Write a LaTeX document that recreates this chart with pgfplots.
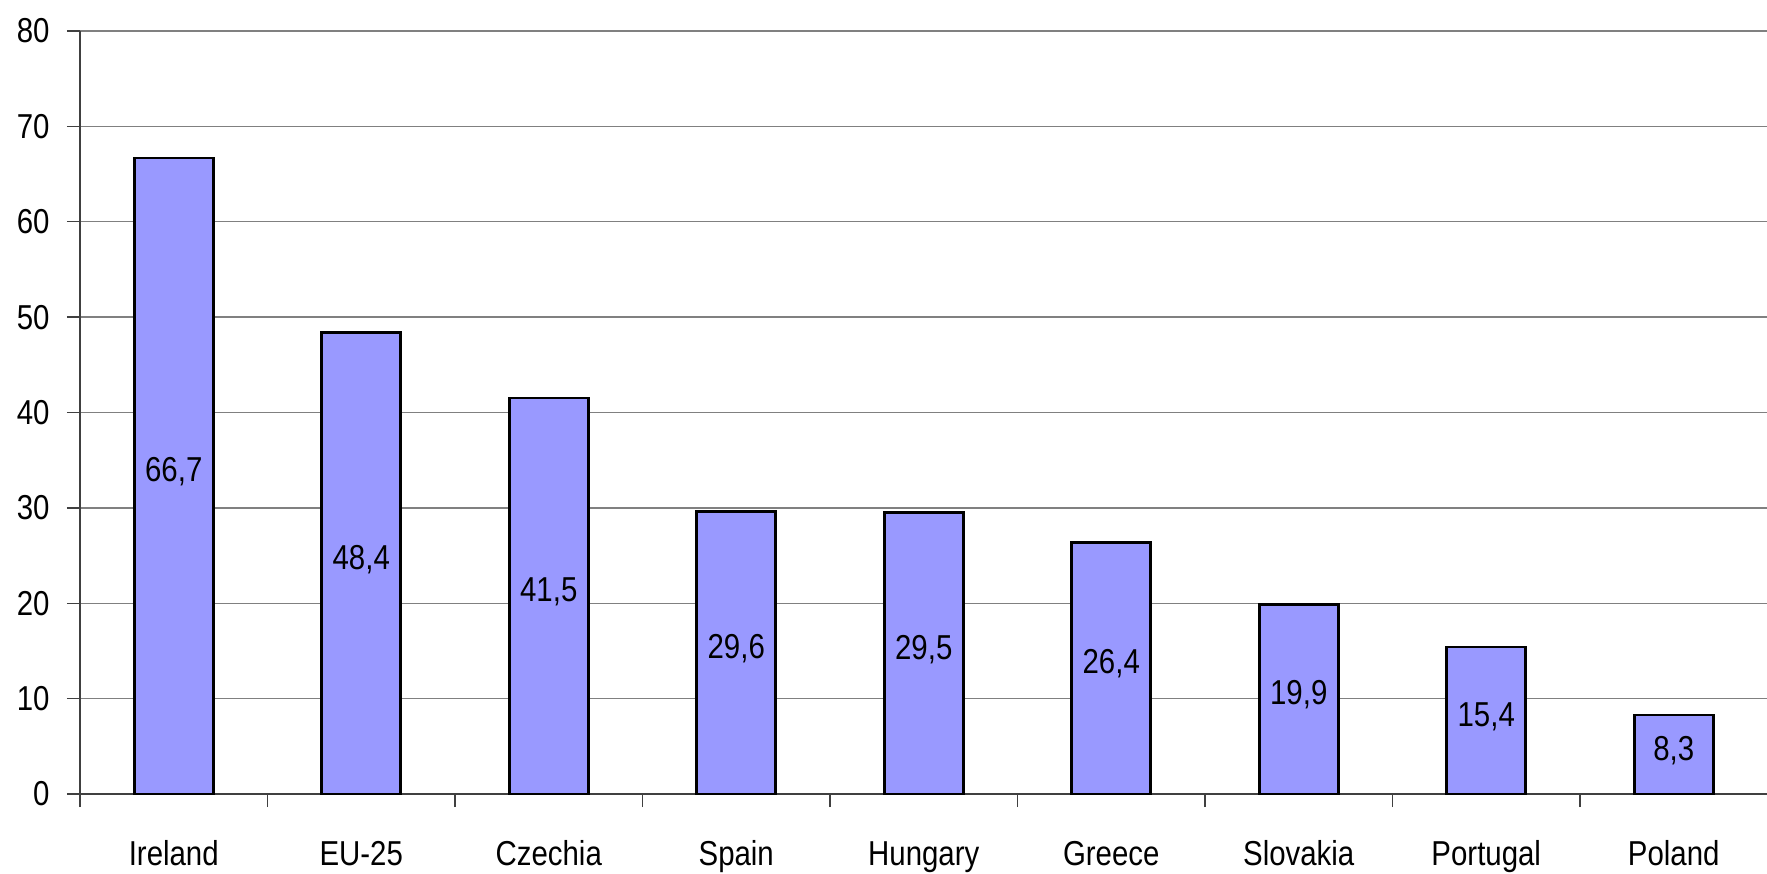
\documentclass[border=0pt]{standalone}
\usepackage{pgfplots}
\pgfplotsset{compat=1.18}
\usepackage{pgfplotstable}
\usepackage{fontspec}
\setmainfont{Liberation Sans}[FakeStretch=0.85]
\definecolor{barfill}{RGB}{153,153,255}
\definecolor{gridgray}{RGB}{128,128,128}
\pgfplotstableread{
x y label
0 66.7 {66,7}
1 48.4 {48,4}
2 41.5 {41,5}
3 29.6 {29,6}
4 29.5 {29,5}
5 26.4 {26,4}
6 19.9 {19,9}
7 15.4 {15,4}
8 8.3 {8,3}
}\datatable
\begin{document}
\begin{tikzpicture}
\begin{axis}[
  at={(0,0)}, anchor=south west,
  scale only axis,
  width=843.75pt, height=381.5pt,
  xmin=-0.5, xmax=8.5,
  ymin=0, ymax=80,
  ytick={0,10,...,80},
  xtick={-0.5,0.5,...,8.5},
  x tick label as interval,
  xticklabels={Ireland,EU-25,Czechia,Spain,Hungary,Greece,Slovakia,Portugal,Poland},
  axis lines*=left,
  axis line style={black!75, line width=0.9pt},
  tick align=outside,
  major tick length=6.5pt,
  tick style={black!75, line width=0.7pt},
  ymajorgrids,
  grid style={gridgray, line width=0.7pt},
  /pgf/number format/assume math mode=true,
  tick label style={font=\fontsize{17.3}{20}\selectfont},
  yticklabel style={anchor=east, inner sep=0pt, xshift=-8.5pt},
  xticklabel style={anchor=base, inner sep=0pt, yshift=-29pt},
  clip=false,
]
\addplot[ybar, bar width=39.5pt, fill=barfill, draw=black, line width=1.3pt]
  table[x=x, y=y] {\datatable};
\addplot[draw=none, mark=none, nodes near coords,
  point meta=explicit symbolic,
  nodes near coords style={anchor=center, font=\fontsize{17.3}{20}\selectfont, inner sep=0pt, yshift=2pt}]
  table[x=x, y expr=\thisrow{y}/2, meta=label] {\datatable};
\end{axis}
\pgfresetboundingbox
\path[use as bounding box] (-40pt,-39.5pt) rectangle (843.5pt,397pt);
\end{tikzpicture}
\end{document}
